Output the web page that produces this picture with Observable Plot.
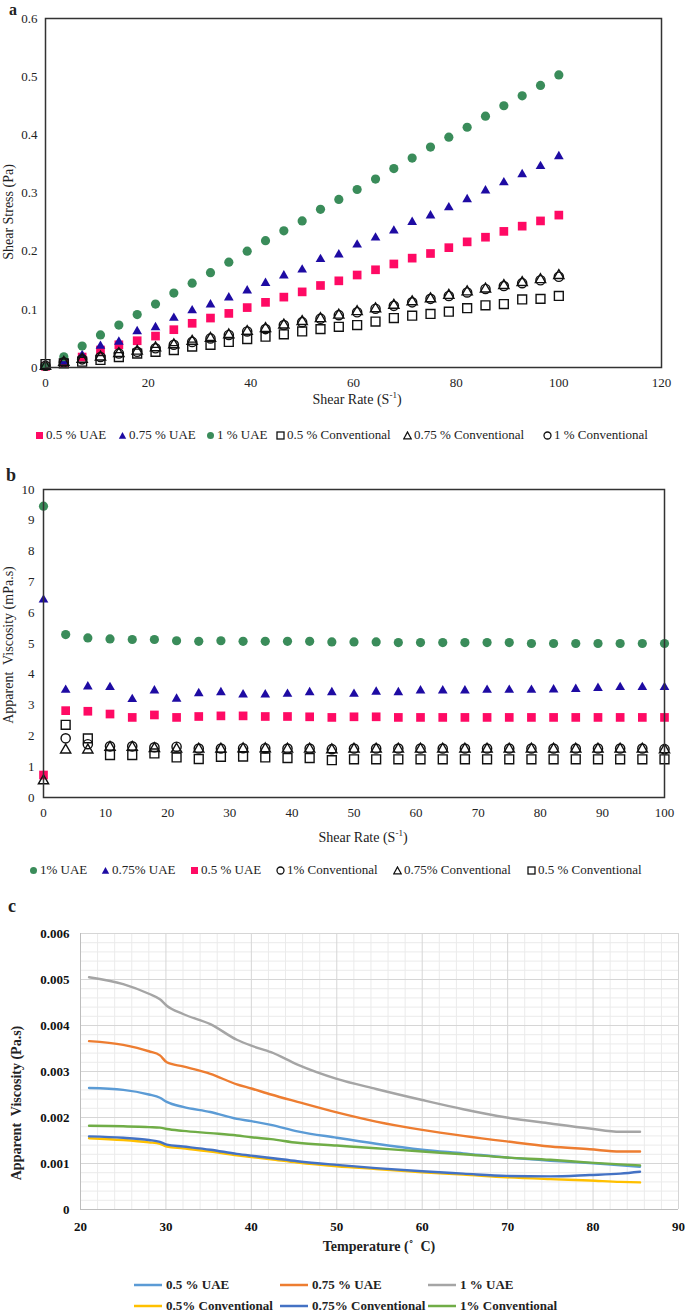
<!DOCTYPE html>
<html><head><meta charset="utf-8">
<script src="https://cdn.jsdelivr.net/npm/d3@7"></script>
<script src="https://cdn.jsdelivr.net/npm/@observablehq/plot@0.6"></script>
<style>
body{margin:0;background:#fff;}
#root{position:relative;width:685px;height:1316px;overflow:hidden;font-family:"Liberation Serif","Tinos","DejaVu Serif",serif;color:#222;}
.abs{position:absolute;white-space:nowrap;line-height:16px;}
.rot{transform:translate(-50%,-50%) rotate(-90deg);}
.ctr{transform:translate(-50%,-50%);}
.panel{position:absolute;left:0;}
.lg{position:absolute;white-space:nowrap;display:flex;align-items:center;height:16px;font-size:13px;}
.lg svg{margin-right:2px;}
sup{font-size:9px;line-height:0;}
</style></head><body><div id="root"></div>
<script>
// ---------- DATA ----------
// Panel a & b: shear rate (1/s)
const shearRate = [0,3.57,7.14,10.71,14.29,17.86,21.43,25,28.57,32.14,35.71,39.29,42.86,46.43,50,53.57,57.14,60.71,64.29,67.86,71.43,75,78.57,82.14,85.71,89.29,92.86,96.43,100];

// Panel a: shear stress (Pa)
const stressUAE05 = [0.002,0.007,0.018,0.03,0.039,0.046,0.054,0.065,0.076,0.085,0.093,0.103,0.112,0.121,0.13,0.141,0.149,0.159,0.168,0.178,0.188,0.196,0.206,0.216,0.224,0.234,0.243,0.252,0.262];
const stressUAE075 = [0.003,0.01,0.021,0.037,0.044,0.062,0.069,0.085,0.098,0.108,0.12,0.132,0.145,0.158,0.168,0.186,0.194,0.211,0.223,0.235,0.25,0.261,0.275,0.289,0.304,0.318,0.332,0.346,0.363];
const stressUAE1 = [0.002,0.0185,0.037,0.056,0.073,0.091,0.109,0.128,0.145,0.163,0.181,0.2,0.218,0.235,0.252,0.272,0.289,0.306,0.324,0.342,0.36,0.379,0.396,0.413,0.432,0.45,0.467,0.485,0.503];
const stressConv05 = [0.006,0.007,0.01,0.013,0.018,0.024,0.027,0.03,0.036,0.039,0.044,0.049,0.053,0.057,0.062,0.066,0.07,0.073,0.079,0.085,0.089,0.092,0.096,0.102,0.107,0.109,0.117,0.118,0.123];
const stressConv075 = [0.002,0.009,0.014,0.018,0.024,0.028,0.034,0.039,0.045,0.05,0.056,0.062,0.067,0.073,0.079,0.084,0.09,0.096,0.101,0.107,0.113,0.118,0.124,0.13,0.135,0.141,0.146,0.151,0.158];
const stressConv1 = [0.003,0.009,0.014,0.018,0.024,0.027,0.033,0.039,0.044,0.05,0.056,0.062,0.066,0.073,0.078,0.084,0.09,0.095,0.101,0.106,0.112,0.118,0.123,0.129,0.135,0.14,0.145,0.15,0.156];

// Panel b: apparent viscosity (mPa.s); null = no visible point
const viscUAE1 = [9.46,5.29,5.18,5.15,5.13,5.13,5.09,5.07,5.09,5.07,5.07,5.07,5.07,5.05,5.05,5.05,5.03,5.03,5.03,5.03,5.03,5.03,5.0,5.0,5.0,5.0,5.0,5.0,5.0];
const viscUAE075 = [6.42,3.49,3.6,3.58,3.19,3.47,3.2,3.38,3.41,3.34,3.34,3.36,3.41,3.41,3.36,3.43,3.41,3.47,3.47,3.47,3.49,3.49,3.49,3.5,3.52,3.55,3.58,3.58,3.58];
const viscUAE05 = [0.73,2.82,2.8,2.71,2.6,2.68,2.6,2.63,2.65,2.65,2.63,2.63,2.62,2.6,2.62,2.62,2.6,2.6,2.6,2.6,2.6,2.6,2.6,2.6,2.6,2.6,2.6,2.6,2.6];
const viscConv1 = [null,1.92,1.73,1.66,1.66,1.63,1.65,1.59,1.59,1.6,1.6,1.59,1.59,1.57,1.59,1.59,1.59,1.59,1.59,1.59,1.59,1.59,1.59,1.59,1.59,1.59,1.59,1.59,1.57];
const viscConv075 = [0.54,1.54,1.54,1.63,1.63,1.59,1.57,1.57,1.57,1.58,1.58,1.57,1.57,1.55,1.57,1.57,1.57,1.57,1.57,1.57,1.57,1.57,1.57,1.57,1.57,1.57,1.57,1.57,1.55];
const viscConv05 = [null,2.36,1.92,1.38,1.38,1.43,1.3,1.25,1.32,1.33,1.3,1.28,1.28,1.21,1.24,1.24,1.24,1.24,1.24,1.24,1.24,1.24,1.24,1.24,1.24,1.24,1.24,1.24,1.24];

// Panel c: temperature (°C) vs apparent viscosity (Pa.s)
const temperature = [21,25,28,29.3,30.1,32,35.2,38.3,40,42.3,45.4,50,54.6,60,64.8,69.9,75,79.6,83.2,85.5];
const tvUAE05 = [0.00264,0.0026,0.0025,0.00243,0.00234,0.00223,0.00212,0.00197,0.00192,0.00184,0.0017,0.00156,0.00143,0.0013,0.00122,0.00113,0.00106,0.00101,0.00096,0.00093];
const tvUAE075 = [0.00366,0.00358,0.00344,0.00335,0.0032,0.00311,0.00295,0.00272,0.00263,0.0025,0.00234,0.00211,0.00191,0.00173,0.0016,0.00148,0.00137,0.00131,0.00126,0.00126];
const tvUAE1 = [0.00505,0.0049,0.00469,0.00457,0.00443,0.00425,0.00403,0.00369,0.00356,0.00342,0.00315,0.00284,0.00262,0.00238,0.00218,0.002,0.00187,0.00176,0.00169,0.00169];
const tvConv05 = [0.00155,0.00151,0.00146,0.00143,0.00137,0.00133,0.00126,0.00118,0.00114,0.00109,0.00102,0.00094,0.00088,0.00081,0.00076,0.0007,0.00066,0.00063,0.0006,0.00059];
const tvConv075 = [0.00159,0.00156,0.00151,0.00147,0.00141,0.00137,0.0013,0.00121,0.00117,0.00112,0.00105,0.00097,0.0009,0.00083,0.00078,0.00073,0.00072,0.00075,0.00078,0.00082];
const tvConv1 = [0.00182,0.00181,0.00179,0.00178,0.00175,0.00171,0.00166,0.00161,0.00157,0.00153,0.00145,0.00139,0.00133,0.00126,0.0012,0.00113,0.00108,0.00102,0.00098,0.00096];

// Tick values
const aXTicks = [0,20,40,60,80,100,120];
const aYTicks = [0,0.1,0.2,0.3,0.4,0.5,0.6];
const bXTicks = [0,10,20,30,40,50,60,70,80,90,100];
const bYTicks = [0,1,2,3,4,5,6,7,8,9,10];
const cXTicks = [20,30,40,50,60,70,80,90];
const cYTicks = [0,0.001,0.002,0.003,0.004,0.005,0.006];
const cXMinor = [22,24,26,28,32,34,36,38,42,44,46,48,52,54,56,58,62,64,66,68,72,74,76,78,82,84,86,88];
const cYMinor = [0.0002,0.0004,0.0006,0.0008,0.0012,0.0014,0.0016,0.0018,0.0022,0.0024,0.0026,0.0028,0.0032,0.0034,0.0036,0.0038,0.0042,0.0044,0.0046,0.0048,0.0052,0.0054,0.0056,0.0058];

// Series names
const namesA = ["0.5 % UAE","0.75 % UAE","1 % UAE","0.5 % Conventional","0.75 % Conventional","1 % Conventional"];
const namesB = ["1% UAE","0.75% UAE","0.5 % UAE","1% Conventional","0.75% Conventional","0.5 % Conventional"];
const namesC = ["0.5 % UAE","0.75 % UAE","1 % UAE","0.5% Conventional","0.75% Conventional","1% Conventional"];

// ---------- STYLES ----------
const SERIF = '"Liberation Serif","Tinos","DejaVu Serif",serif';
const PINK = "#ff0a64", NAVY = "#1e0ba3", GREEN = "#3a8c5a";
const sty = {
  uae05: {symbol:"square", fill:PINK, stroke:"none", r:4.9},
  uae075: {symbol:"triangle", fill:NAVY, stroke:"none", r:3.6},
  uae1: {symbol:"circle", fill:GREEN, stroke:"none", r:4.6},
  conv05: {symbol:"square", fill:"none", stroke:"#111", r:5.0, strokeWidth:1.4},
  conv075: {symbol:"triangle", fill:"none", stroke:"#111", r:3.8, strokeWidth:1.4},
  conv1: {symbol:"circle", fill:"none", stroke:"#111", r:4.6, strokeWidth:1.4}
};
const cColors = {uae05:"#5b9bd5", uae075:"#ed7d31", uae1:"#a5a5a5", conv05:"#ffc000", conv075:"#4472c4", conv1:"#70ad47"};

const root = document.getElementById("root");
function rows(xs, ys){ return xs.map((x,i)=>({x, y: ys[i]})).filter(d => d.y != null); }
function addPanel(svg, top){ const d=document.createElement("div"); d.className="panel"; d.style.top=top+"px"; d.appendChild(svg); root.appendChild(d); }
function addText(html, x, y, cls, extra){ const d=document.createElement("div"); d.className="abs "+(cls||""); d.style.left=x+"px"; d.style.top=y+"px"; d.innerHTML=html; if(extra) Object.assign(d.style, extra); root.appendChild(d); return d; }

function dotMarks(list){
  return list.map(([key, ys]) => Plot.dot(rows(shearRate, ys), {x:"x", y:"y", ...sty[key]}));
}

// ---------- PANEL A ----------
const A = Plot.plot({
  width: 685, height: 410,
  marginLeft: 45, marginRight: 24, marginTop: 18, marginBottom: 43,
  style: {fontFamily: SERIF, fontSize: "13px", color: "#222", background: "transparent", overflow: "visible"},
  x: {domain: [0,120]},
  y: {domain: [0,0.6]},
  marks: [
    Plot.axisX(aXTicks, {tickSize: 0, tickPadding: 10, label: null, fontSize: 13}),
    Plot.axisY(aYTicks, {tickSize: 0, tickPadding: 8, label: null, fontSize: 13, tickFormat: d => String(d)}),
    ...dotMarks([["uae05",stressUAE05],["uae075",stressUAE075],["uae1",stressUAE1],["conv05",stressConv05],["conv075",stressConv075],["conv1",stressConv1]]),
    Plot.frame({stroke: "#333", strokeWidth: 1.5})
  ]
});
addPanel(A, 0);

// ---------- PANEL B ----------
const B = Plot.plot({
  width: 685, height: 370,
  marginLeft: 43, marginRight: 21, marginTop: 19, marginBottom: 43,
  style: {fontFamily: SERIF, fontSize: "13px", color: "#222", background: "transparent", overflow: "visible"},
  x: {domain: [0,100]},
  y: {domain: [0,10]},
  marks: [
    Plot.axisX(bXTicks, {tickSize: 0, tickPadding: 10, label: null, fontSize: 13}),
    Plot.axisY(bYTicks, {tickSize: 0, tickPadding: 9, label: null, fontSize: 13}),
    ...dotMarks([["uae1",viscUAE1],["uae075",viscUAE075],["uae05",viscUAE05],["conv1",viscConv1],["conv075",viscConv075],["conv05",viscConv05]]),
    Plot.frame({stroke: "#333", strokeWidth: 1.5})
  ]
});
addPanel(B, 470);

// ---------- PANEL C ----------
const cSeries = [["uae05",tvUAE05],["uae075",tvUAE075],["uae1",tvUAE1],["conv05",tvConv05],["conv075",tvConv075],["conv1",tvConv1]];
const C = Plot.plot({
  width: 685, height: 340,
  marginLeft: 80, marginRight: 7, marginTop: 33, marginBottom: 31,
  style: {fontFamily: SERIF, fontSize: "13px", fontWeight: "bold", color: "#111", background: "transparent", overflow: "visible"},
  x: {domain: [20,90]},
  y: {domain: [0,0.006]},
  marks: [
    Plot.gridX(cXMinor, {stroke: "#ebebeb", strokeOpacity: 1}),
    Plot.gridY(cYMinor, {stroke: "#ebebeb", strokeOpacity: 1}),
    Plot.gridX(cXTicks, {stroke: "#d6d6d6", strokeOpacity: 1}),
    Plot.gridY(cYTicks, {stroke: "#d6d6d6", strokeOpacity: 1}),
    Plot.ruleX([20], {stroke: "#bdbdbd"}),
    Plot.ruleY([0], {stroke: "#bdbdbd"}),
    Plot.axisX(cXTicks, {tickSize: 0, tickPadding: 12, label: null, fontSize: 13}),
    Plot.axisY(cYTicks, {tickSize: 0, tickPadding: 11, label: null, fontSize: 13, tickFormat: d => String(d)}),
    ...cSeries.map(([key, ys]) => Plot.line(rows(temperature, ys), {x:"x", y:"y", stroke: cColors[key], strokeWidth: 2.4, curve: "monotone-x"}))
  ]
});
addPanel(C, 900);

// ---------- TEXT & LEGENDS ----------
addText("a", 9, 0, "", {fontSize: "16px", fontWeight: "bold", lineHeight: "19px"});
addText("b", 6, 467, "", {fontSize: "18px", fontWeight: "bold"});
addText("c", 8, 898, "", {fontSize: "18px", fontWeight: "bold"});

addText("Shear Stress (Pa)", 9, 212, "rot", {fontSize: "14px"});
addText("Shear Rate (S<sup>-1</sup>)", 357, 400, "ctr", {fontSize: "14px"});
addText("Apparent&nbsp; Viscosity (mPa.s)", 9, 645, "rot", {fontSize: "14px"});
addText("Shear Rate (S<sup>-1</sup>)", 363, 838, "ctr", {fontSize: "14px"});
addText("Apparent&nbsp; Viscosity (Pa.s)", 17, 1103, "rot", {fontSize: "14px", fontWeight: "bold"});
addText("Temperature (˚&nbsp;&nbsp;C)", 379, 1247, "ctr", {fontSize: "14px", fontWeight: "bold"});

function symSvg(s){
  const size = 9, c = size/2;
  let shape;
  const fill = s.fill === "none" ? "none" : s.fill;
  const stroke = s.stroke === "none" ? "none" : s.stroke;
  const sw = s.stroke === "none" ? 0 : 1.3;
  if (s.symbol === "square") shape = `<rect x="1" y="1" width="7" height="7" fill="${fill}" stroke="${stroke}" stroke-width="${sw}"/>`;
  else if (s.symbol === "triangle") shape = `<path d="M4.5 1 L8.2 7.8 L0.8 7.8 Z" fill="${fill}" stroke="${stroke}" stroke-width="${sw}"/>`;
  else shape = `<circle cx="${c}" cy="${c}" r="3.5" fill="${fill}" stroke="${stroke}" stroke-width="${sw}"/>`;
  return `<svg width="${size}" height="${size}" viewBox="0 0 ${size} ${size}">${shape}</svg>`;
}
function legendItem(x, y, html, extra){
  const d = document.createElement("div"); d.className = "lg";
  d.style.left = x + "px"; d.style.top = (y - 8) + "px"; d.innerHTML = html;
  if (extra) Object.assign(d.style, extra);
  root.appendChild(d);
}
const keysA = ["uae05","uae075","uae1","conv05","conv075","conv1"];
const legAx = [35, 118, 206, 276, 403, 543];
keysA.forEach((k,i) => legendItem(legAx[i], 435, symSvg(sty[k]) + namesA[i]));
const keysB = ["uae1","uae075","uae05","conv1","conv075","conv05"];
const legBx = [29, 101, 190, 276, 393, 527];
keysB.forEach((k,i) => legendItem(legBx[i], 870, symSvg(sty[k]) + namesB[i]));
const keysC = ["uae05","uae075","uae1","conv05","conv075","conv1"];
const legCx = [134, 280, 428];
keysC.forEach((k,i) => legendItem(legCx[i % 3], i < 3 ? 1285 : 1306,
  `<svg width="30" height="6"><line x1="0" y1="3" x2="28" y2="3" stroke="${cColors[k]}" stroke-width="2.5"/></svg>` + namesC[i],
  {fontWeight: "bold"}));
</script>
</body></html>
